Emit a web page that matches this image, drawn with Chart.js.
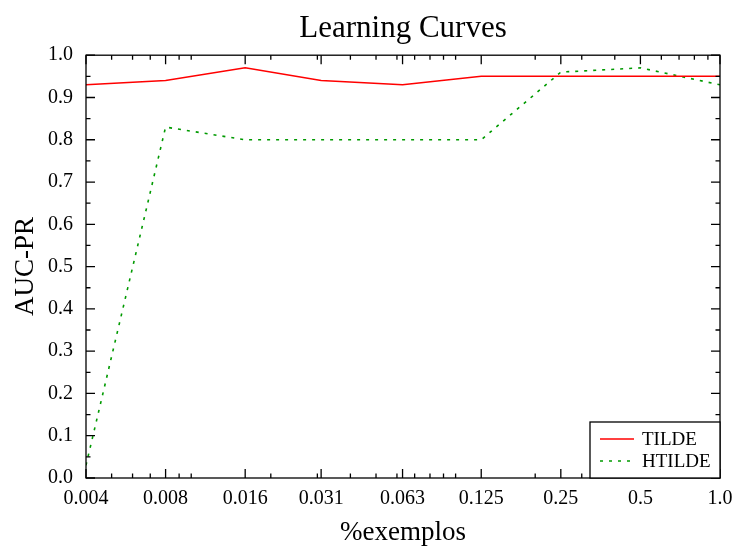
<!DOCTYPE html>
<html>
<head>
<meta charset="utf-8">
<script src="https://cdn.jsdelivr.net/npm/chart.js@4.4.1/dist/chart.umd.min.js"></script>
<style>
html,body{margin:0;padding:0;background:#fff;}
#wrap{width:739px;height:546px;}
</style>
</head>
<body>
<div id="wrap"><canvas id="c" width="739" height="546"></canvas></div>
<script>
// ---- data ----
const xValues = [0.004, 0.008, 0.016, 0.031, 0.063, 0.125, 0.25, 0.5, 1.0];
const xLabels = ['0.004', '0.008', '0.016', '0.031', '0.063', '0.125', '0.25', '0.5', '1.0'];
const tilde  = [0.93, 0.94, 0.97, 0.94, 0.93, 0.95, 0.95, 0.95, 0.95];
const htilde = [0.03, 0.83, 0.80, 0.80, 0.80, 0.80, 0.96, 0.97, 0.93];
const seriesNames = ['TILDE', 'HTILDE'];
const yTicks = [0, 0.1, 0.2, 0.3, 0.4, 0.5, 0.6, 0.7, 0.8, 0.9, 1.0];
const xMinor = [0.005,0.006,0.007,0.009,0.01,0.02,0.03,0.04,0.05,0.06,0.07,0.08,0.09,0.1,0.2,0.3,0.4,0.6,0.7,0.8,0.9];
const yMinor = [0.05,0.15,0.25,0.35,0.45,0.55,0.65,0.75,0.85,0.95];

const FONT = '"Liberation Serif", "Times New Roman", serif';

const framePlugin = {
  id: 'frame',
  afterDatasetsDraw(chart) {
    const ctx = chart.ctx, a = chart.chartArea;
    const xs = chart.scales.x, ys = chart.scales.y;
    ctx.save();
    ctx.strokeStyle = '#000';
    ctx.lineWidth = 1.3;
    ctx.strokeRect(a.left, a.top, a.right - a.left, a.bottom - a.top);
    ctx.beginPath();
    const major = 9, minor = 4.5;
    xValues.forEach(v => {
      const p = xs.getPixelForValue(v);
      ctx.moveTo(p, a.bottom); ctx.lineTo(p, a.bottom - major);
      ctx.moveTo(p, a.top); ctx.lineTo(p, a.top + major);
    });
    xMinor.forEach(v => {
      const p = xs.getPixelForValue(v);
      ctx.moveTo(p, a.bottom); ctx.lineTo(p, a.bottom - minor);
      ctx.moveTo(p, a.top); ctx.lineTo(p, a.top + minor);
    });
    yTicks.forEach(v => {
      const p = ys.getPixelForValue(v);
      ctx.moveTo(a.left, p); ctx.lineTo(a.left + major, p);
      ctx.moveTo(a.right, p); ctx.lineTo(a.right - major, p);
    });
    yMinor.forEach(v => {
      const p = ys.getPixelForValue(v);
      ctx.moveTo(a.left, p); ctx.lineTo(a.left + minor, p);
      ctx.moveTo(a.right, p); ctx.lineTo(a.right - minor, p);
    });
    ctx.stroke();

    // legend box
    const bw = 130, bh = 56;
    const bx = a.right - bw, by = a.bottom - bh;
    ctx.fillStyle = '#fff';
    ctx.fillRect(bx, by, bw, bh);
    ctx.strokeRect(bx, by, bw, bh);
    chart.data.datasets.forEach((ds, i) => {
      const ly = by + 17 + i * 22;
      ctx.beginPath();
      ctx.strokeStyle = ds.borderColor;
      ctx.lineWidth = ds.borderWidth;
      ctx.setLineDash(ds.borderDash || []);
      ctx.moveTo(bx + 10, ly); ctx.lineTo(bx + 44, ly);
      ctx.stroke();
      ctx.setLineDash([]);
      ctx.fillStyle = '#000';
      ctx.font = '19px ' + FONT;
      ctx.textBaseline = 'middle';
      ctx.textAlign = 'left';
      ctx.fillText(ds.label, bx + 52, ly + 1);
    });
    ctx.restore();
  }
};

new Chart(document.getElementById('c'), {
  type: 'line',
  data: {
    datasets: [
      { label: seriesNames[0], data: xValues.map((x, i) => ({x, y: tilde[i]})),
        borderColor: '#ff0000', borderWidth: 1.5, pointRadius: 0, tension: 0, fill: false },
      { label: seriesNames[1], data: xValues.map((x, i) => ({x, y: htilde[i]})),
        borderColor: '#009a00', borderWidth: 1.6, borderDash: [3, 6], pointRadius: 0, tension: 0, fill: false }
    ]
  },
  options: {
    responsive: false,
    animation: false,
    layout: { padding: { left: 0, right: 19, top: 0, bottom: 0 } },
    plugins: {
      legend: { display: false },
      tooltip: { enabled: false },
      title: {
        display: true, text: 'Learning Curves', color: '#000', fullSize: false,
        font: { family: FONT, size: 31, weight: 'normal', lineHeight: 1.2 },
        padding: { top: 10, bottom: 8 }
      }
    },
    scales: {
      x: {
        type: 'logarithmic', min: 0.004, max: 1.0,
        grid: { display: false, drawTicks: false },
        border: { display: false },
        afterBuildTicks: s => { s.ticks = xValues.map(v => ({ value: v })); },
        afterFit: s => { s.height = 68; s.paddingRight = 0; s.paddingLeft = 0; },
        ticks: {
          autoSkip: false, maxRotation: 0, padding: 9, color: '#000',
          font: { family: FONT, size: 20 },
          callback: (v, i) => xLabels[i]
        },
        title: { display: true, text: '%exemplos', color: '#000',
          font: { family: FONT, size: 27, lineHeight: 1 }, padding: { top: 0, bottom: 0 } }
      },
      y: {
        type: 'linear', min: 0, max: 1,
        grid: { display: false, drawTicks: false },
        border: { display: false },
        afterBuildTicks: s => { s.ticks = yTicks.map(v => ({ value: v })); },
        afterFit: s => { s.width = 86; },
        ticks: {
          padding: 13, color: '#000',
          font: { family: FONT, size: 20 },
          callback: v => Number(v).toFixed(1)
        },
        title: { display: true, text: 'AUC-PR', color: '#000',
          font: { family: FONT, size: 27, lineHeight: 1 }, padding: { top: 12, bottom: 0 } }
      }
    }
  },
  plugins: [framePlugin]
});
</script>
</body>
</html>
